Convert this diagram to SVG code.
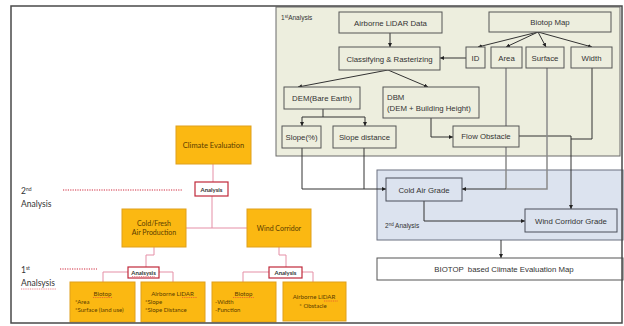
<svg xmlns="http://www.w3.org/2000/svg" width="624" height="326" viewBox="0 0 624 326">
<defs>
<marker id="ah" viewBox="0 0 6 6" refX="6" refY="3" markerWidth="4" markerHeight="4" orient="auto" markerUnits="userSpaceOnUse">
<path d="M0,0 L6,3 L0,6 Z" fill="#222"/>
</marker>
<style>
.bx{fill:#EDEEDE;stroke:#555;stroke-width:1}
.bb{fill:#DCE3EF;stroke:#4a4f5a;stroke-width:1}
.t{font-family:"Liberation Sans",Arial,sans-serif;font-size:7.8px;fill:#333;text-anchor:middle}
.tl{font-family:"Liberation Sans",Arial,sans-serif;font-size:7.8px;fill:#333}
.sm{font-family:"Liberation Sans",Arial,sans-serif;font-size:6.5px;fill:#333}
.ob{fill:#FBB812;stroke:#DFA01C;stroke-width:1}
.ot{font-family:Lato,"Open Sans",sans-serif;fill:#5a3c00;text-anchor:middle}
.otl{font-family:Lato,"Open Sans",sans-serif;fill:#5a3c00;font-size:6px}
.an{fill:#fff;stroke:#C0283A;stroke-width:1.2}
.ant{font-family:Lato,"Open Sans",sans-serif;font-size:6px;font-weight:bold;fill:#333;text-anchor:middle}
.c{fill:none;stroke:#333;stroke-width:1}
.cg{fill:none;stroke:#8a8a8a;stroke-width:1.5}
.pk{fill:none;stroke:#E58FA6;stroke-width:1}
.rd{fill:none;stroke:#D0283C;stroke-width:1.2;stroke-dasharray:1.2 1.2}
.sq{fill:none;stroke:#E03040;stroke-width:0.6;stroke-dasharray:1 0.8}
.lab{font-family:Lato,"Open Sans",sans-serif;font-size:8.5px;fill:#333}
</style>
</defs>

<!-- panels -->
<rect x="276" y="7" width="344" height="149" fill="#EDEEDE" stroke="#6b6b6b" stroke-width="1"/>
<text class="sm" x="281" y="20">1<tspan font-size="4.5px" dy="-2">st</tspan><tspan dy="2">Analysis</tspan></text>
<rect x="377" y="170" width="246" height="70" fill="#DCE3EF" stroke="#6b7080" stroke-width="1"/>
<text class="sm" x="385" y="228">2<tspan font-size="4.5px" dy="-2">nd</tspan><tspan dy="2"> Analysis</tspan></text>

<!-- connectors -->
<g id="connectors">
<path class="c" d="M390,33 V47" marker-end="url(#ah)"/>
<path class="c" d="M466,58 H440" marker-end="url(#ah)"/>
<path class="c" d="M538,32 L478,47" marker-end="url(#ah)"/>
<path class="c" d="M538,32 L506,47" marker-end="url(#ah)"/>
<path class="c" d="M538,32 L546,47" marker-end="url(#ah)"/>
<path class="c" d="M538,32 L592,47" marker-end="url(#ah)"/>
<path class="c" d="M388,70 L298,87" marker-end="url(#ah)"/>
<path class="c" d="M388,70 L428,87" marker-end="url(#ah)"/>
<path class="c" d="M323,109 V117"/>
<path class="c" d="M302,117 H365"/>
<path class="c" d="M302,117 V126" marker-end="url(#ah)"/>
<path class="c" d="M365,117 V126" marker-end="url(#ah)"/>
<path class="c" d="M431,118 V137 H453" marker-end="url(#ah)"/>
<path class="c" d="M519,136 H571 V209" marker-end="url(#ah)"/>
<path class="c" d="M592,68 V139 H571"/>
<path class="cg" d="M506,68 V189"/>
<path class="cg" d="M547,68 V189 H506"/>
<path class="c" d="M506,189 H462" marker-end="url(#ah)"/>
<path class="c" d="M302,148 V189 H386" marker-end="url(#ah)"/>
<path class="c" d="M364,148 V189"/>
<path class="c" d="M424,201 V221 H525" marker-end="url(#ah)"/>
<path class="c" d="M501,240 V258" marker-end="url(#ah)"/>
<!-- left tree -->
<path class="pk" d="M213,164 V182"/>
<path class="pk" d="M212,196 V228"/>
<path class="pk" d="M186,228 H247"/>
<path class="pk" d="M154,247 V255 H146 V267"/>
<path class="pk" d="M279,247 V255 H286 V267"/>
<path class="pk" d="M128,272 H103 V282"/>
<path class="pk" d="M159,272 H173 V282"/>
<path class="pk" d="M269,272 H243 V282"/>
<path class="pk" d="M302,272 H313 V282"/>
<path class="rd" d="M63,190 H183"/>
<path class="rd" d="M60,269 H97"/>
</g>

<!-- right nodes -->
<g id="airborne"><rect class="bx" x="339" y="12" width="103" height="21"/><text class="t" x="390.5" y="25.5">Airborne LiDAR Data</text></g>
<g id="biotopmap"><rect class="bx" x="489" y="12" width="122" height="20"/><text class="t" x="550" y="25">Biotop Map</text></g>
<g id="classifying"><rect class="bx" x="339" y="47" width="101" height="23"/><text class="t" x="389.5" y="61.5">Classifying &amp; Rasterizing</text></g>
<g id="id"><rect class="bx" x="466" y="47" width="19" height="21"/><text class="t" x="475.5" y="60.5">ID</text></g>
<g id="area"><rect class="bx" x="491" y="47" width="31" height="21"/><text class="t" x="506.5" y="60.5">Area</text></g>
<g id="surface"><rect class="bx" x="526" y="47" width="38" height="21"/><text class="t" x="545" y="60.5">Surface</text></g>
<g id="width"><rect class="bx" x="571" y="47" width="41" height="21"/><text class="t" x="591.5" y="60.5">Width</text></g>
<g id="dem"><rect class="bx" x="284" y="87" width="76" height="22"/><text class="t" x="322" y="100.5">DEM(Bare Earth)</text></g>
<g id="dbm"><rect class="bx" x="383" y="87" width="96" height="31"/><text class="tl" x="387" y="100">DBM</text><text class="tl" x="387" y="111">(DEM + Building Height)</text></g>
<g id="slope"><rect class="bx" x="282" y="126" width="39" height="22"/><text class="t" x="301.5" y="139.5">Slope(%)</text></g>
<g id="slopedist"><rect class="bx" x="333" y="126" width="63" height="22"/><text class="t" x="364.5" y="139.5">Slope distance</text></g>
<g id="flow"><rect class="bx" x="453" y="126" width="66" height="21"/><text class="t" x="486" y="139">Flow Obstacle</text></g>
<g id="coldair"><rect class="bb" x="386" y="178" width="76" height="23"/><text class="t" x="424" y="192.5">Cold Air Grade</text></g>
<g id="windgrade"><rect class="bb" x="525" y="209" width="92" height="23"/><text class="t" x="571" y="223.5">Wind Corridor Grade</text></g>
<g id="biotopmapresult"><rect x="377" y="258" width="246" height="22" fill="#fff" stroke="#555" stroke-width="1"/><text class="t" x="504" y="272" xml:space="preserve">BIOTOP  based Climate Evaluation Map</text></g>

<!-- left nodes -->
<g id="climate"><rect class="ob" x="176" y="126" width="75" height="38"/><text class="ot" x="213.5" y="147.5" font-size="7.5px">Climate Evaluation</text></g>
<g id="analysis2"><rect class="an" x="195" y="182" width="33" height="14"/><text class="ant" x="211.5" y="191.5">Analysis</text></g>
<g id="coldfresh"><rect class="ob" x="122" y="209" width="64" height="38"/><text class="ot" x="154" y="225.5" font-size="7px">Cold/Fresh</text><text class="ot" x="154" y="234.5" font-size="7px">Air Production</text></g>
<g id="windcorridor"><rect class="ob" x="247" y="209" width="64" height="38"/><text class="ot" x="279" y="230.5" font-size="7px">Wind Corridor</text></g>
<g id="analysisL"><rect class="an" x="128" y="267" width="31" height="11"/><text class="ant" x="143.5" y="274.5">Analsysis</text><path class="sq" d="M132,276.5 H155"/></g>
<g id="analysisR"><rect class="an" x="269" y="267" width="33" height="11"/><text class="ant" x="285.5" y="274.5">Analysis</text></g>
<g id="biotopL"><rect class="ob" x="70" y="282" width="65" height="40"/><text class="ot" x="102.5" y="295.5" font-size="6.2px">Biotop</text><path class="sq" d="M93,297.5 H112"/><text class="otl" x="75" y="304">*Area</text><text class="otl" x="75" y="311.7">*Surface (land use)</text></g>
<g id="lidarL"><rect class="ob" x="141" y="282" width="64" height="40"/><text class="ot" x="172.5" y="295.5" font-size="6.2px">Airborne LiDAR</text><path class="sq" d="M182,297.5 H197"/><text class="otl" x="145" y="304">*Slope</text><text class="otl" x="145" y="311.7">*Slope Distance</text></g>
<g id="biotopR"><rect class="ob" x="212" y="282" width="64" height="40"/><text class="ot" x="243.5" y="295.5" font-size="6.2px">Biotop</text><path class="sq" d="M233,297.5 H254"/><text class="otl" x="215" y="303.7">-Width</text><text class="otl" x="215" y="311.7">-Function</text></g>
<g id="lidarR"><rect class="ob" x="283" y="282" width="63" height="39"/><text class="ot" x="314" y="299" font-size="6.2px">Airborne LiDAR</text><path class="sq" d="M324,301 H338"/><text class="ot" x="313" y="307.7" font-size="6px">* Obstacle</text></g>

<!-- side labels -->
<text class="lab" x="21" y="193.5">2<tspan font-size="5px" dy="-3">nd</tspan></text>
<text class="lab" x="21" y="206.5">Analysis</text>
<text class="lab" x="21" y="272.5">1<tspan font-size="5px" dy="-3">st</tspan></text>
<text class="lab" x="21" y="286">Analsysis</text>
<path class="sq" d="M21,289 H56"/>

<!-- outer frame -->
<rect x="11" y="6" width="611" height="317" fill="none" stroke="#4a4a4a" stroke-width="1.5"/>
</svg>
